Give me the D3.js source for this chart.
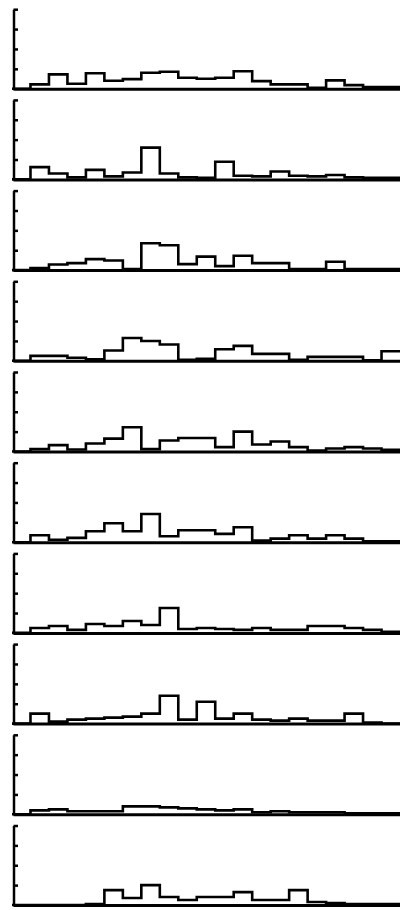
<!DOCTYPE html>
<html><head><meta charset="utf-8">
<script src="https://cdn.jsdelivr.net/npm/d3@7"></script>
<style>html,body{margin:0;padding:0;background:#fff;}svg{display:block;}</style>
</head><body>
<svg id="c" width="400" height="910"></svg>
<script>
// bins (categories)
const bins = d3.range(21);
// tick positions of the count axis (not labelled in the reference)
const yTicks = [10, 20, 30, 40];
// series values, one array per panel (counts per bin)
const panel1  = [0,2.2,7.2,2.5,7.8,4,4.8,8,8.5,5.5,5,5.5,8.8,3.8,2.2,2.2,0.5,4.2,1.8,0.8,0.8];
const panel2  = [0,6.2,3,1,4.8,1.5,3.5,16,3,1,0.8,8.9,1.8,1.5,4,1.8,1.5,2.2,1,0.8,0.8];
const panel3  = [0,1,2.8,3.5,5.5,4.8,0.5,13.5,12.5,3,6.8,2,7.2,3.5,3.5,0.5,0.5,4.2,0.5,0.5,0.5];
const panel4  = [0,2.5,2.5,1.5,0.8,5.2,11.5,10,8.2,0.5,1,5.8,7.5,3.5,3.5,0.5,2,2,2,0.2,4.8];
const panel5  = [0,1.2,3.2,1,4,6.5,12.2,1.2,5.5,6.8,6.8,2.2,10,3.5,5,2.2,0.5,1.5,2.2,1.5,0.8];
const panel6  = [0,3.5,1.2,2.2,5.5,9.5,5.5,14.2,3,6,6,4.2,7.5,0.8,1.8,3.5,1.8,3.5,1.8,0.5,0.5];
const panel7  = [0,2.5,3.5,1.5,4.5,3.5,6,4,12.5,2,2.5,2,1.5,2.5,1.5,1.5,3.5,3.5,2.5,1.5,0.5];
const panel8  = [0,5,1,2,2.5,3,3.5,5,14,2,11,2.5,5,2,1.5,2.5,1.5,1.5,5,0.5,0];
const panel9  = [0,2,2.5,1.5,1.5,1.5,4,4,3.5,3,2.5,2,2.5,1,1.5,1,1,1,0.5,0.5,0.5];
const panel10 = [0,0,0,0,0.5,7.5,3.5,10,4,2.5,4,4,6.5,2.5,2.5,7.5,1.5,1,0.5,0.5,0.5];
const panels = [panel1,panel2,panel3,panel4,panel5,panel6,panel7,panel8,panel9,panel10];

const svg = d3.select("#c");
const axisX = 13.5;
const x = d3.scaleLinear().domain([0, bins.length]).range([12, 400]);
const firstBase = 88.7, pitch = 90.7, plotH = 79.5;

panels.forEach((vals, i) => {
  const base = firstBase + i * pitch;
  const y = d3.scaleLinear().domain([0, 40]).range([base, base - plotH]);
  const g = svg.append("g");

  // histogram outline (step line)
  const pts = bins.map(d => [d, vals[d]]);
  pts.push([bins.length, vals[vals.length - 1]]);
  const line = d3.line().x(p => x(p[0])).y(p => y(p[1])).curve(d3.curveStepAfter);
  g.append("path")
    .attr("d", line(pts))
    .attr("fill", "none")
    .attr("stroke", "#000")
    .attr("stroke-width", 2.6)
    .attr("stroke-linejoin", "miter");

  // baseline
  g.append("line")
    .attr("x1", axisX).attr("x2", 400)
    .attr("y1", y(0) + 0.5).attr("y2", y(0) + 0.5)
    .attr("stroke", "#000").attr("stroke-width", 3);

  // left axis with inward ticks, no labels
  const ax = d3.axisLeft(y).tickValues(yTicks).tickSizeInner(-4.5).tickSizeOuter(0).tickFormat("");
  const ag = g.append("g").attr("transform", `translate(${axisX},0)`).call(ax);
  ag.select(".domain").attr("stroke", "#000").attr("stroke-width", 2.5);
  ag.selectAll(".tick line").attr("stroke", "#000").attr("stroke-width", 2.5);
});
</script>
</body></html>
